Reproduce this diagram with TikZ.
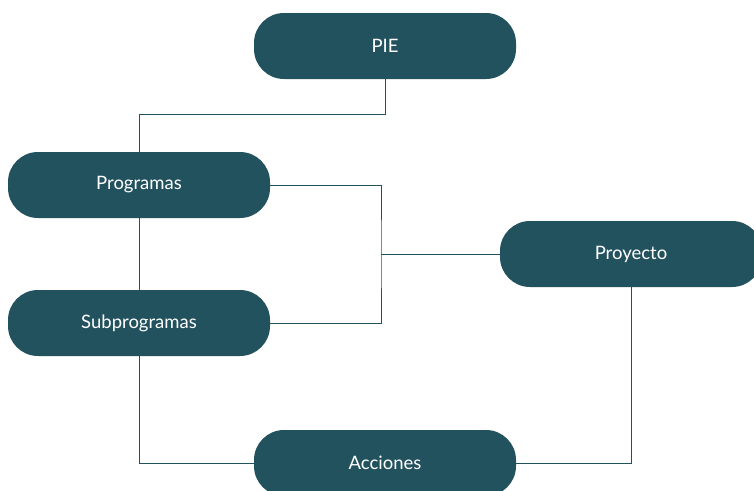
\documentclass[tikz,border=0pt]{standalone}
\usepackage{fontspec}
\setmainfont{Lato}
\definecolor{petrol}{HTML}{23525F}
\tikzset{
  box/.style={fill=petrol,text=white,rounded corners=30pt,minimum width=262pt,minimum height=66pt,font=\fontsize{18.5}{22}\selectfont},
  link/.style={draw=petrol,line width=0.9pt}
}
\begin{document}
\begin{tikzpicture}[x=1pt,y=-1pt]
    \useasboundingbox (0,0) rectangle (754,490);
    \node[box] (pie) at (385,46) {PIE};
    \node[box] (prog) at (139,185) {Programas};
    \node[box] (sub) at (139,323) {Subprogramas};
    \node[box] (proy) at (631,254) {Proyecto};
    \node[box] (acc) at (385,463) {Acciones};
    \coordinate (join) at (381,254);
    \draw[link] (pie.south) -- ++(0,35) -| (prog.north);
    \draw[link] (prog.south) -- (sub.north);
    \draw[link] (prog.east) -| (join) |- (sub.east);
    \draw[link] (join) -- (proy.west);
    \draw[link] (sub.south) |- (acc.west);
    \draw[link] (acc.east) -| (proy.south);
\end{tikzpicture}
\end{document}
